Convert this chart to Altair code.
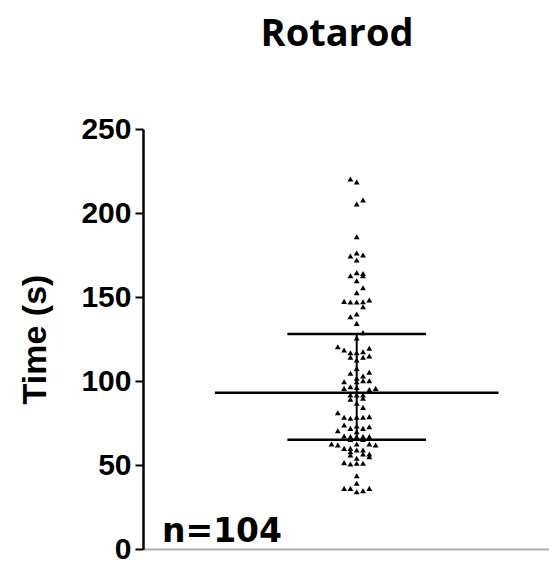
import altair as alt
import pandas as pd

# ---- data ----
times = [
    220.2, 218.5, 207.7, 205.4, 185.9,
    174.4, 176.2, 175.0, 172.0,
    162.7, 164.5, 164.0, 162.7, 159.7,
    155.5, 152.6,
    147.4, 147.0, 147.0, 147.2, 148.2, 144.2,
    138.3, 139.9, 134.3,
    128.8, 125.6,
    120.4, 118.5, 116.8, 116.8, 117.4, 119.5,
    114.1, 112.5, 114.1, 114.9,
    107.5,
    104.6, 103.0, 105.2, 101.6,
    99.6, 99.6, 100.2, 100.2,
    95.6, 96.6, 96.2, 95.0, 95.6,
    91.7, 91.7, 91.7, 89.1, 89.7,
    86.7, 84.3,
    81.1, 78.4, 77.8, 78.4, 78.4, 78.8,
    73.8, 71.8, 73.2, 71.8, 72.8,
    70.4, 69.8,
    67.3, 66.9, 66.9, 66.9, 66.9,
    65.2, 65.2,
    62.5, 61.9, 59.9, 59.9, 62.5, 62.5, 61.9,
    57.9, 58.9, 58.9,
    56.0, 56.5, 56.5,
    54.0, 55.0,
    51.4, 50.6, 51.0, 51.0,
    43.6, 39.1,
    36.1, 36.1, 34.1, 34.7, 36.1,
]
columns = [
    -1, 0, 1, 0, 0,
    -1, 0, 1, 0,
    -1, 0, 1, 1, 0,
    1, 0,
    -2, -1, 0, 1, 2, 1,
    -1, 0, 0,
    1, 0,
    -3, -2, -1, 0, 1, 2,
    -1, 0, 1, 2,
    0,
    -1, 1, 2, 0,
    -2, 0, 1, 2,
    -2, -1, 0, 2, 3,
    -1, 0, 1, -1, 1,
    0, 1,
    -3, -2, -1, 0, 1, 2,
    -2, -1, 0, 1, 2,
    -3, 0,
    -2, -1, 0, 1, 2,
    -1, 1,
    -4, -3, -2, -1, 0, 2, 3,
    -1, 0, 1,
    -1, 1, 2,
    0, 2,
    -2, -1, 0, 1,
    0, 0,
    -2, -1, 0, 1, 2,
]
stat_names = ["Q1", "Median", "Q3"]
stat_values = [65, 93, 128]
stat_half_widths = [11, 22.5, 11]
y_ticks = [0, 50, 100, 150, 200, 250]
n_label = "n=104"
y_title = "Time (s)"

# ---- frames ----
pts = pd.DataFrame({"col": columns, "time": times})
stats = pd.DataFrame({
    "name": stat_names,
    "y": stat_values,
    "x": [-h for h in stat_half_widths],
    "x2": stat_half_widths,
})
vline = pd.DataFrame({"x": [0], "y": [stat_values[0]], "y2": [stat_values[2]]})

xs = alt.Scale(domain=[-33.9, 30.5], nice=False, zero=False)
ys = alt.Scale(domain=[0, 250], nice=False)

x_axis = alt.Axis(title=None, labels=False, ticks=False, grid=False)
y_axis = alt.Axis(values=y_ticks, title=y_title, grid=False)

points = alt.Chart(pts).mark_point(
    shape="triangle-up", filled=True, color="black", size=34, opacity=1
).encode(
    x=alt.X("col:Q", scale=xs, axis=x_axis),
    y=alt.Y("time:Q", scale=ys, axis=y_axis),
)

hlines = alt.Chart(stats).mark_rule(color="black", strokeWidth=2.5).encode(
    x=alt.X("x:Q", scale=xs, axis=x_axis), x2="x2:Q",
    y=alt.Y("y:Q", scale=ys, axis=y_axis)
)
vrule = alt.Chart(vline).mark_rule(color="black", strokeWidth=2).encode(
    x=alt.X("x:Q", scale=xs, axis=x_axis),
    y=alt.Y("y:Q", scale=ys, axis=y_axis), y2="y2:Q"
)

nlabel = alt.Chart(pd.DataFrame({"t": [n_label]})).mark_text(
    align="left", baseline="alphabetic", font="DejaVu Sans", fontSize=33,
    fontWeight="bold", color="black"
).encode(text="t:N", x=alt.value(19), y=alt.value(413))

chart = alt.layer(points, hlines, vrule, nlabel).properties(
    width=406, height=420,
    title=alt.TitleParams("Rotarod", font="Open Sans", fontSize=38, fontWeight="bold",
                          color="black", anchor="middle", dx=-9, offset=60),
    padding={"left": 143, "top": 129, "right": 0, "bottom": 24},
    autosize=alt.AutoSizeParams(type="none"),
).configure_view(stroke=None).configure_axisX(
    domainColor="#b0b0b0", domainWidth=2, labels=False, ticks=False, grid=False
).configure_axisY(
    labelFont="Liberation Sans", labelFontSize=30, labelFontWeight="bold",
    labelColor="black", labelPadding=4,
    tickSize=8, tickWidth=2, tickColor="black",
    domainColor="black", domainWidth=2.5,
    titleFont="Liberation Sans", titleFontSize=34, titleFontWeight="bold",
    titleColor="black", titlePadding=28, grid=False
)

chart.save("out.html", embed_options={"renderer": "svg", "actions": False})
